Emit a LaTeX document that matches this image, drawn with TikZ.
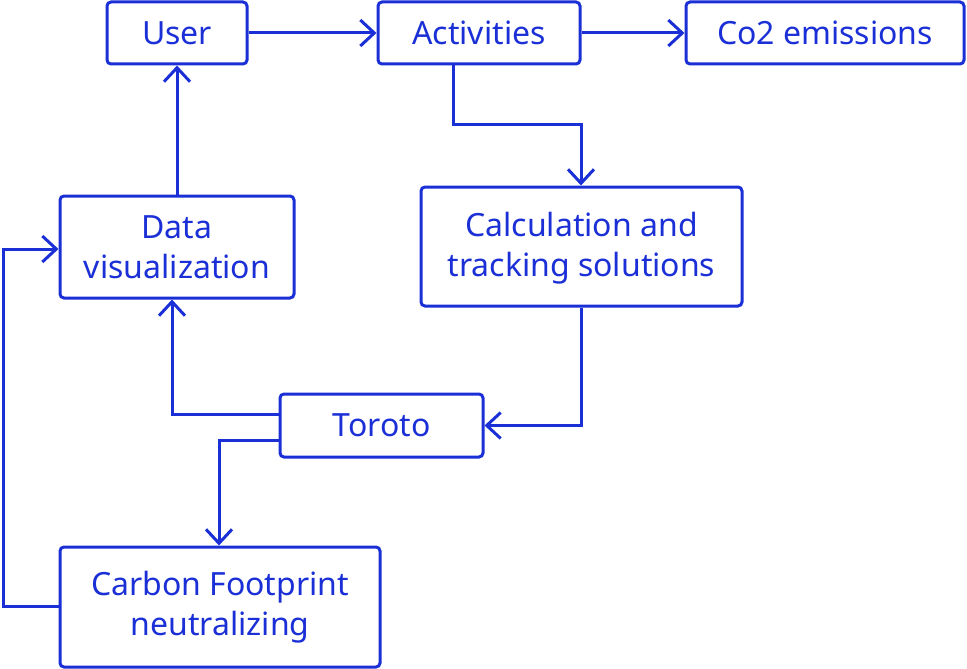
\documentclass[tikz,border=0pt]{standalone}
\usepackage{fontspec}
\setmainfont{Noto Sans}
\usetikzlibrary{arrows.meta}
\definecolor{bl}{HTML}{1A2FD6}
\begin{document}
\begin{tikzpicture}[x=1pt,y=-1pt,
  box/.style={draw=bl,line width=3pt,rounded corners=4pt,text=bl,inner sep=0pt,align=center,
    font=\fontsize{32}{40}\selectfont},
  conn/.style={draw=bl,line width=3pt,-{Straight Barb[length=14pt,width=26pt,line width=3pt]}},
  line join=miter]
\useasboundingbox (0,0) rectangle (967,669);
\node[box,minimum width=140pt,minimum height=62pt] (user) at (177,33) {User};
\node[box,minimum width=202pt,minimum height=62pt] (act) at (479,33) {Activities};
\node[box,minimum width=278pt,minimum height=62pt] (co2) at (825,33) {Co2 emissions};
\node[box,minimum width=234pt,minimum height=102pt] (dv) at (177,247) {Data\\visualization};
\node[box,minimum width=321pt,minimum height=119pt] (calc) at (581.5,246.5) {\strut Calculation and\\tracking solutions};
\node[box,minimum width=203pt,minimum height=63pt] (tor) at (381.5,425.5) {Toroto};
\node[box,minimum width=320pt,minimum height=120pt] (cf) at (220,607) {Carbon Footprint\\neutralizing};
\coordinate (c1) at (453,124);
\coordinate (c2) at (581,124);
\coordinate (c3) at (3,606);
\coordinate (c4) at (3,249);
\draw[conn] (user.east) -- (act.west);
\draw[conn] (act.east) -- (co2.west);
\draw[conn] (act.south -| c1) -- (c1) -- (c2) -- (calc.north -| c2);
\draw[conn] (dv.north) -- (user.south);
\draw[conn] (calc.south) |- (tor.east);
\draw[conn] (tor.west |- 0,414) -| (172,0 |- dv.south);
\draw[conn] (tor.west |- 0,440) -| (219,0 |- cf.north);
\draw[conn] (cf.west |- c3) -- (c3) -- (c4) -- (dv.west |- c4);
\end{tikzpicture}
\end{document}
